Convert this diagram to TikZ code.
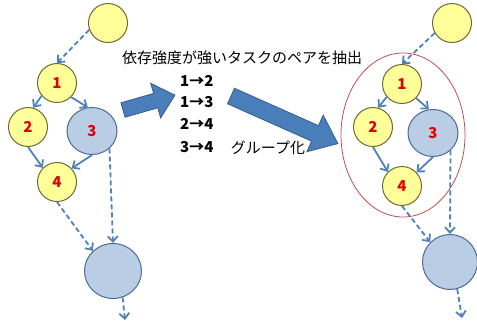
\documentclass[tikz,border=0pt]{standalone}
\usepackage{fontspec}
\newfontfamily\jp{Noto Sans CJK JP}
\usetikzlibrary{arrows.meta, shapes.geometric}
\definecolor{taskfill}{HTML}{FFFF99}
\definecolor{taskline}{HTML}{6B6B3A}
\definecolor{heavyfill}{HTML}{B9CDE5}
\definecolor{heavyline}{HTML}{4D6A93}
\definecolor{edgeblue}{HTML}{4F81BD}
\definecolor{arrowfill}{HTML}{4A7EBB}
\definecolor{arrowline}{HTML}{385D8A}
\definecolor{numred}{HTML}{E00000}
\definecolor{groupred}{HTML}{C0504D}
\tikzset{
  task/.style={circle, draw=taskline, fill=taskfill, line width=1pt, minimum size=39pt, inner sep=0pt,
    text=numred, font=\jp\bfseries\fontsize{15}{15}\selectfont},
  heavy/.style={ellipse, draw=heavyline, fill=heavyfill, line width=1pt, minimum width=50pt, minimum height=47pt,
    inner sep=0pt, text=numred, font=\jp\bfseries\fontsize{15}{15}\selectfont},
  dep/.style={draw=edgeblue, line width=1.8pt, -{Straight Barb[length=5.5pt,width=10pt]}},
  weak/.style={dep, dash pattern=on 5pt off 3pt},
  bigarrow/.style={draw=arrowline, fill=arrowfill, line width=0.8pt, line join=miter},
  jptext/.style={inner sep=0pt, font=\jp\fontsize{15}{15}\selectfont},
  pairtext/.style={inner sep=0pt, anchor=west, font=\jp\bfseries\fontsize{15}{15}\selectfont}
}
% block arrow: length, half shaft, half head, head length
\newcommand{\blockarrow}[4]{%
  \path[bigarrow] (0,-#2) -- ({#1-#4},-#2) -- ({#1-#4},-#3) -- (#1,0) -- ({#1-#4},#3) -- ({#1-#4},#2) -- (0,#2) -- cycle;}
\begin{document}
\begin{tikzpicture}[x=1pt, y=-1pt]
            \useasboundingbox (0,0) rectangle (477,325);

            % Left graph
            \node[task] (topL) at (108, 23) {};
            \node[task] (L1) at (57, 83) {1};
            \node[task] (L2) at (28, 127) {2};
            \node[heavy] (L3) at (92, 131) {3};
            \node[task] (L4) at (57, 182) {4};
            \node[heavy, minimum width=57pt, minimum height=55pt] (botL) at (113, 271) {};
            \coordinate (endL) at (125, 320);

            \draw[weak] (topL.200) -- (L1.north);
            \draw[dep] (L1.220) -- (L2.75);
            \draw[dep] (L1.-45) -- (L3.100);
            \draw[dep] (L2.south) -- (L4.135);
            \draw[dep] (L3.south) -- (L4.43);
            \draw[weak] (L4.south) -- (botL.135);
            \draw[weak] (L3.-45) -- (botL.north);
            \draw[weak] (botL.-70) -- (endL);

            % Middle
            \node[jptext] (title) at (242, 58) {依存強度が強いタスクのペアを抽出};
            \node[pairtext] (p12) at (180, 81) {1→2};
            \node[pairtext] (p13) at (180, 102) {1→3};
            \node[pairtext] (p24) at (180, 124) {2→4};
            \node[pairtext] (p34) at (180, 147) {3→4};
            \node[jptext] (grouping) at (268, 148) {グループ化};
            \begin{scope}[shift={(123, 110)}, rotate=16]
              \blockarrow{54}{7.5}{18}{20}
            \end{scope}
            \begin{scope}[shift={(231, 96)}, rotate=-24]
              \blockarrow{117}{8.5}{20}{25}
            \end{scope}

            % Right graph
            \node[ellipse, draw=groupred, line width=0.8pt, minimum width=124pt, minimum height=164pt] (group) at (403, 135) {};
            \node[task] (topR) at (452, 23) {};
            \node[task] (R1) at (402, 84) {1};
            \node[task] (R2) at (373, 127) {2};
            \node[heavy] (R3) at (433, 133) {3};
            \node[task] (R4) at (402, 186) {4};
            \node[heavy, minimum width=55pt, minimum height=55pt] (botR) at (450, 262) {};
            \coordinate (endR) at (462, 318);

            \draw[weak] (topR.210) -- (R1.north);
            \draw[dep] (R1.220) -- (R2.75);
            \draw[dep] (R1.-45) -- (R3.100);
            \draw[dep] (R2.south) -- (R4.135);
            \draw[dep] (R3.south) -- (R4.43);
            \draw[weak] (R4.south) -- (botR.135);
            \draw[weak] (R3.-45) -- (botR.north);
            \draw[weak] (botR.-75) -- (endR);
        \end{tikzpicture}
\end{document}
